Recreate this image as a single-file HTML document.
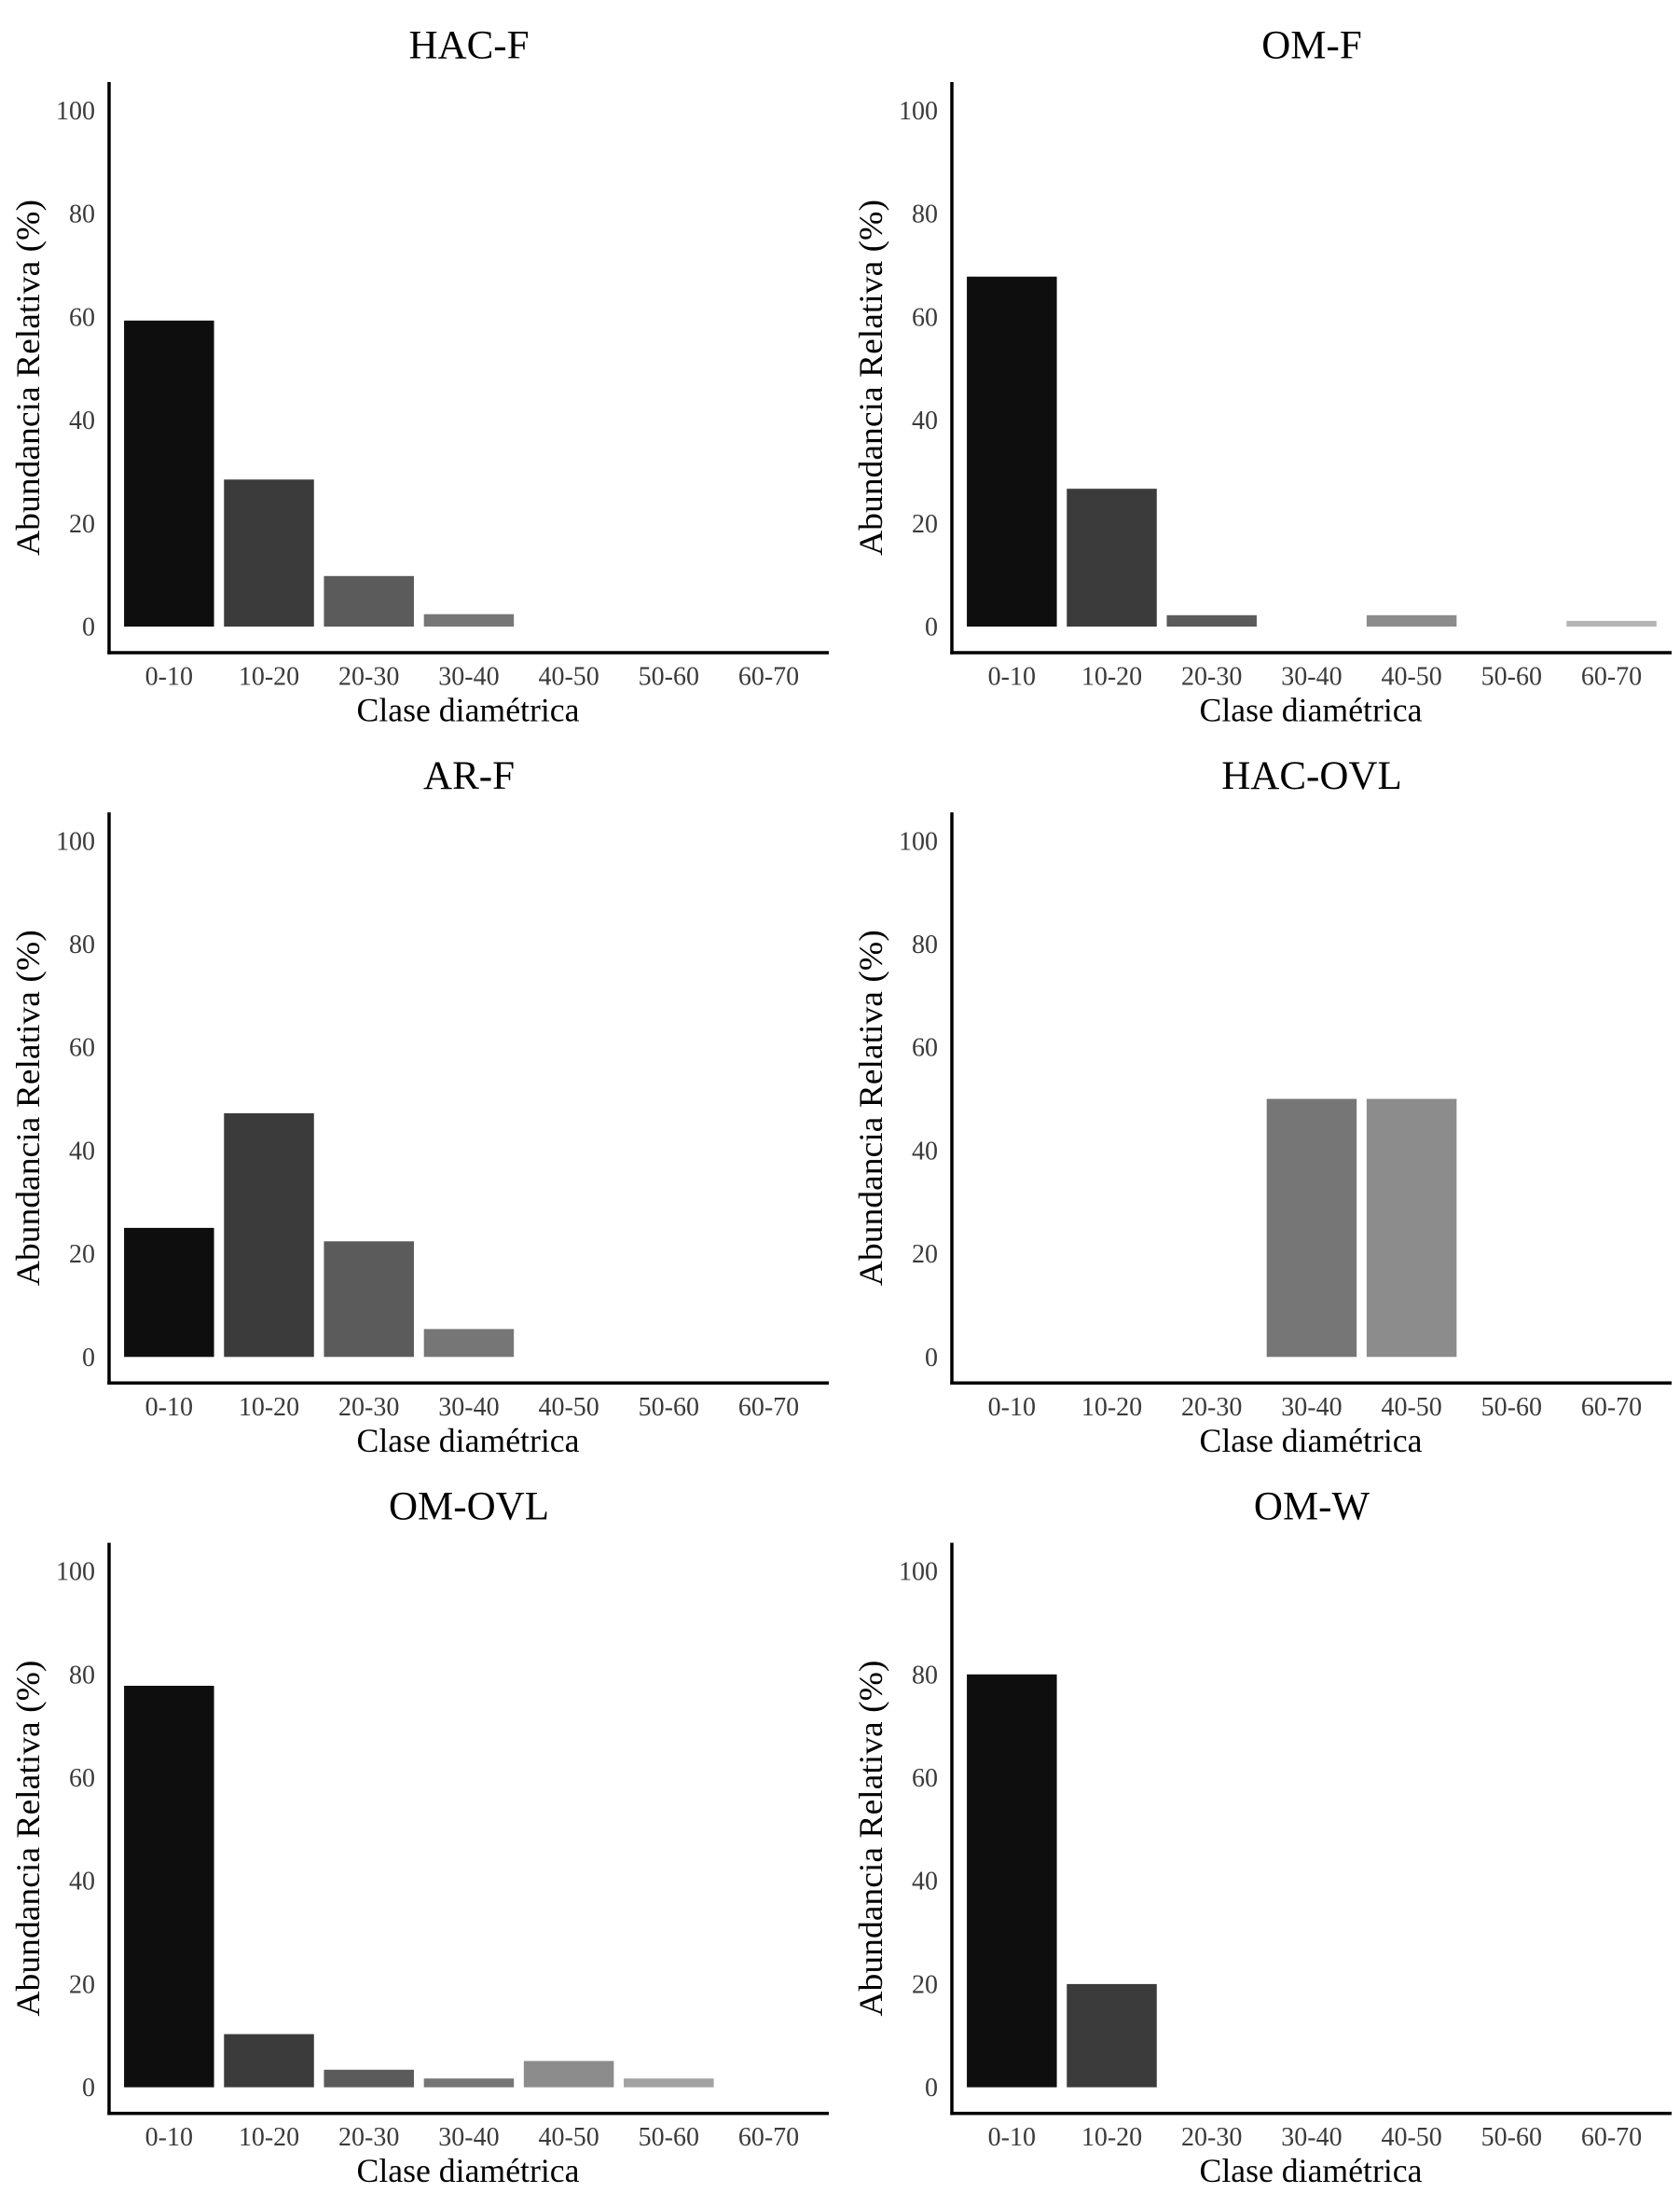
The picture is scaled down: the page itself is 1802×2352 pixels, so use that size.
<!DOCTYPE html>
<html>
<head>
<meta charset="utf-8">
<style>
html,body{margin:0;padding:0;background:#fff;}
svg{display:block;}
.t{font-family:"Liberation Serif","Times New Roman",serif;}
.title{font-size:43px;fill:#000;text-anchor:middle;}
.yt{font-size:28px;fill:#3a3a3a;text-anchor:end;}
.xt{font-size:28px;fill:#3a3a3a;text-anchor:middle;}
.at{font-size:36px;fill:#000;text-anchor:middle;}
.c1{fill:#0e0e0e}.c2{fill:#3b3b3b}.c3{fill:#5b5b5b}.c4{fill:#767676}.c5{fill:#8c8c8c}.c6{fill:#a2a2a2}.c7{fill:#b4b4b4}
</style>
</head>
<body>
<svg width="1802" height="2352" viewBox="0 0 1802 2352" xmlns="http://www.w3.org/2000/svg">
<defs>
<g id="frame">
  <line x1="117" y1="88" x2="117" y2="701.7" stroke="#000" stroke-width="3.5"/>
  <line x1="115.3" y1="700" x2="889" y2="700" stroke="#000" stroke-width="3.5"/>
</g>
</defs>

<!-- Panel generator: each panel in its own group -->
<!-- ===== HAC-F ===== -->
<g transform="translate(0,0)">
  <text class="t title" x="503" y="62.7">HAC-F</text>
  <rect class="c1" x="133.07" y="343.8" width="96.5" height="328.2"/>
  <rect class="c2" x="240.27" y="514.3" width="96.5" height="157.7"/>
  <rect class="c3" x="347.47" y="617.8" width="96.5" height="54.2"/>
  <rect class="c4" x="454.67" y="658.7" width="96.5" height="13.3"/>
  <use href="#frame"/>
  <g class="t yt">
    <text x="102" y="681.5">0</text><text x="102" y="570.8">20</text><text x="102" y="460.1">40</text>
    <text x="102" y="349.4">60</text><text x="102" y="238.7">80</text><text x="102" y="128">100</text>
  </g>
  <g class="t xt">
    <text x="181.32" y="734.5">0-10</text><text x="288.52" y="734.5">10-20</text><text x="395.72" y="734.5">20-30</text>
    <text x="502.92" y="734.5">30-40</text><text x="610.12" y="734.5">40-50</text><text x="717.32" y="734.5">50-60</text>
    <text x="824.52" y="734.5">60-70</text>
  </g>
  <text class="t at" x="502" y="773.5" textLength="239" lengthAdjust="spacingAndGlyphs">Clase diamétrica</text>
  <text class="t at" transform="translate(42,405) rotate(-90)" x="0" y="0" textLength="382" lengthAdjust="spacingAndGlyphs">Abundancia Relativa (%)</text>
</g>

<!-- ===== OM-F ===== -->
<g transform="translate(904,0)">
  <text class="t title" x="503" y="62.7">OM-F</text>
  <rect class="c1" x="133.07" y="296.7" width="96.5" height="375.3"/>
  <rect class="c2" x="240.27" y="524.2" width="96.5" height="147.8"/>
  <rect class="c3" x="347.47" y="659.8" width="96.5" height="12.2"/>
  <rect class="c5" x="561.87" y="659.8" width="96.5" height="12.2"/>
  <rect class="c7" x="776.27" y="665.9" width="96.5" height="6.1"/>
  <use href="#frame"/>
  <g class="t yt">
    <text x="102" y="681.5">0</text><text x="102" y="570.8">20</text><text x="102" y="460.1">40</text>
    <text x="102" y="349.4">60</text><text x="102" y="238.7">80</text><text x="102" y="128">100</text>
  </g>
  <g class="t xt">
    <text x="181.32" y="734.5">0-10</text><text x="288.52" y="734.5">10-20</text><text x="395.72" y="734.5">20-30</text>
    <text x="502.92" y="734.5">30-40</text><text x="610.12" y="734.5">40-50</text><text x="717.32" y="734.5">50-60</text>
    <text x="824.52" y="734.5">60-70</text>
  </g>
  <text class="t at" x="502" y="773.5" textLength="239" lengthAdjust="spacingAndGlyphs">Clase diamétrica</text>
  <text class="t at" transform="translate(42,405) rotate(-90)" x="0" y="0" textLength="382" lengthAdjust="spacingAndGlyphs">Abundancia Relativa (%)</text>
</g>

<!-- ===== AR-F ===== -->
<g transform="translate(0,783.3)">
  <text class="t title" x="503" y="62.7">AR-F</text>
  <rect class="c1" x="133.07" y="533.6" width="96.5" height="138.4"/>
  <rect class="c2" x="240.27" y="410.7" width="96.5" height="261.3"/>
  <rect class="c3" x="347.47" y="548.0" width="96.5" height="124.0"/>
  <rect class="c4" x="454.67" y="642.1" width="96.5" height="29.9"/>
  <use href="#frame"/>
  <g class="t yt">
    <text x="102" y="681.5">0</text><text x="102" y="570.8">20</text><text x="102" y="460.1">40</text>
    <text x="102" y="349.4">60</text><text x="102" y="238.7">80</text><text x="102" y="128">100</text>
  </g>
  <g class="t xt">
    <text x="181.32" y="734.5">0-10</text><text x="288.52" y="734.5">10-20</text><text x="395.72" y="734.5">20-30</text>
    <text x="502.92" y="734.5">30-40</text><text x="610.12" y="734.5">40-50</text><text x="717.32" y="734.5">50-60</text>
    <text x="824.52" y="734.5">60-70</text>
  </g>
  <text class="t at" x="502" y="773.5" textLength="239" lengthAdjust="spacingAndGlyphs">Clase diamétrica</text>
  <text class="t at" transform="translate(42,405) rotate(-90)" x="0" y="0" textLength="382" lengthAdjust="spacingAndGlyphs">Abundancia Relativa (%)</text>
</g>

<!-- ===== HAC-OVL ===== -->
<g transform="translate(904,783.3)">
  <text class="t title" x="503" y="62.7">HAC-OVL</text>
  <rect class="c4" x="454.67" y="395.25" width="96.5" height="276.75"/>
  <rect class="c5" x="561.87" y="395.25" width="96.5" height="276.75"/>
  <use href="#frame"/>
  <g class="t yt">
    <text x="102" y="681.5">0</text><text x="102" y="570.8">20</text><text x="102" y="460.1">40</text>
    <text x="102" y="349.4">60</text><text x="102" y="238.7">80</text><text x="102" y="128">100</text>
  </g>
  <g class="t xt">
    <text x="181.32" y="734.5">0-10</text><text x="288.52" y="734.5">10-20</text><text x="395.72" y="734.5">20-30</text>
    <text x="502.92" y="734.5">30-40</text><text x="610.12" y="734.5">40-50</text><text x="717.32" y="734.5">50-60</text>
    <text x="824.52" y="734.5">60-70</text>
  </g>
  <text class="t at" x="502" y="773.5" textLength="239" lengthAdjust="spacingAndGlyphs">Clase diamétrica</text>
  <text class="t at" transform="translate(42,405) rotate(-90)" x="0" y="0" textLength="382" lengthAdjust="spacingAndGlyphs">Abundancia Relativa (%)</text>
</g>

<!-- ===== OM-OVL ===== -->
<g transform="translate(0,1566.6)">
  <text class="t title" x="503" y="62.7">OM-OVL</text>
  <rect class="c1" x="133.07" y="241.4" width="96.5" height="430.6"/>
  <rect class="c2" x="240.27" y="615.0" width="96.5" height="57.0"/>
  <rect class="c3" x="347.47" y="653.2" width="96.5" height="18.8"/>
  <rect class="c4" x="454.67" y="662.6" width="96.5" height="9.4"/>
  <rect class="c5" x="561.87" y="643.8" width="96.5" height="28.2"/>
  <rect class="c6" x="669.07" y="662.6" width="96.5" height="9.4"/>
  <use href="#frame"/>
  <g class="t yt">
    <text x="102" y="681.5">0</text><text x="102" y="570.8">20</text><text x="102" y="460.1">40</text>
    <text x="102" y="349.4">60</text><text x="102" y="238.7">80</text><text x="102" y="128">100</text>
  </g>
  <g class="t xt">
    <text x="181.32" y="734.5">0-10</text><text x="288.52" y="734.5">10-20</text><text x="395.72" y="734.5">20-30</text>
    <text x="502.92" y="734.5">30-40</text><text x="610.12" y="734.5">40-50</text><text x="717.32" y="734.5">50-60</text>
    <text x="824.52" y="734.5">60-70</text>
  </g>
  <text class="t at" x="502" y="773.5" textLength="239" lengthAdjust="spacingAndGlyphs">Clase diamétrica</text>
  <text class="t at" transform="translate(42,405) rotate(-90)" x="0" y="0" textLength="382" lengthAdjust="spacingAndGlyphs">Abundancia Relativa (%)</text>
</g>

<!-- ===== OM-W ===== -->
<g transform="translate(904,1566.6)">
  <text class="t title" x="503" y="62.7">OM-W</text>
  <rect class="c1" x="133.07" y="229.2" width="96.5" height="442.8"/>
  <rect class="c2" x="240.27" y="561.3" width="96.5" height="110.7"/>
  <use href="#frame"/>
  <g class="t yt">
    <text x="102" y="681.5">0</text><text x="102" y="570.8">20</text><text x="102" y="460.1">40</text>
    <text x="102" y="349.4">60</text><text x="102" y="238.7">80</text><text x="102" y="128">100</text>
  </g>
  <g class="t xt">
    <text x="181.32" y="734.5">0-10</text><text x="288.52" y="734.5">10-20</text><text x="395.72" y="734.5">20-30</text>
    <text x="502.92" y="734.5">30-40</text><text x="610.12" y="734.5">40-50</text><text x="717.32" y="734.5">50-60</text>
    <text x="824.52" y="734.5">60-70</text>
  </g>
  <text class="t at" x="502" y="773.5" textLength="239" lengthAdjust="spacingAndGlyphs">Clase diamétrica</text>
  <text class="t at" transform="translate(42,405) rotate(-90)" x="0" y="0" textLength="382" lengthAdjust="spacingAndGlyphs">Abundancia Relativa (%)</text>
</g>
</svg>
</body>
</html>
